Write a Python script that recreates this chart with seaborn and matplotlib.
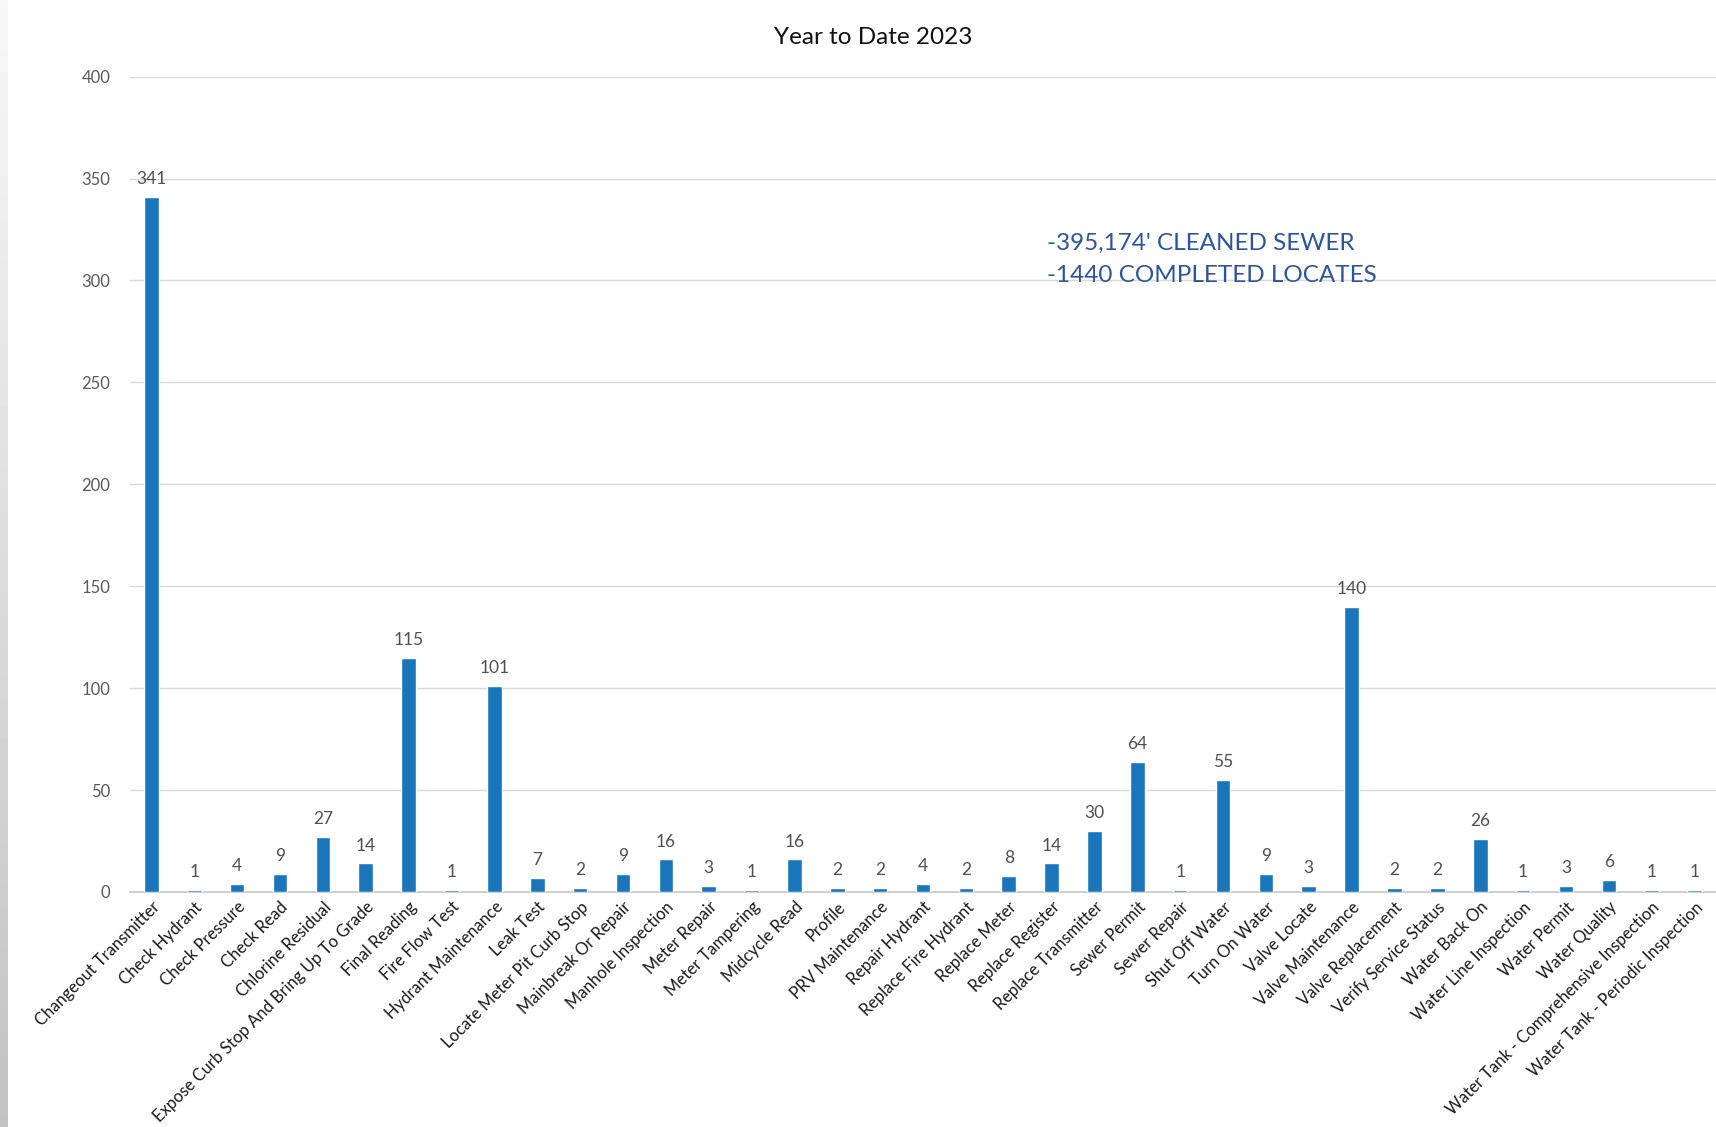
import numpy as np
import pandas as pd
import matplotlib
matplotlib.use("Agg")
import matplotlib.pyplot as plt
import seaborn as sns

categories = [
    "Changeout Transmitter", "Check Hydrant", "Check Pressure", "Check Read",
    "Chlorine Residual", "Expose Curb Stop And Bring Up To Grade", "Final Reading",
    "Fire Flow Test", "Hydrant Maintenance", "Leak Test", "Locate Meter Pit Curb Stop",
    "Mainbreak Or Repair", "Manhole Inspection", "Meter Repair", "Meter Tampering",
    "Midcycle Read", "Profile", "PRV Maintenance", "Repair Hydrant",
    "Replace Fire Hydrant", "Replace Meter", "Replace Register", "Replace Transmitter",
    "Sewer Permit", "Sewer Repair", "Shut Off Water", "Turn On Water", "Valve Locate",
    "Valve Maintenance", "Valve Replacement", "Verify Service Status", "Water Back On",
    "Water Line Inspection", "Water Permit", "Water Quality",
    "Water Tank - Comprehensive Inspection", "Water Tank - Periodic Inspection",
]
values = [341, 1, 4, 9, 27, 14, 115, 1, 101, 7, 2, 9, 16, 3, 1, 16, 2, 2, 4, 2, 8,
          14, 30, 64, 1, 55, 9, 3, 140, 2, 2, 26, 1, 3, 6, 1, 1]
y_ticks = [0, 50, 100, 150, 200, 250, 300, 350, 400]
title = "Year to Date 2023"
note_lines = ["-395,174' CLEANED SEWER", "-1440 COMPLETED LOCATES"]

df = pd.DataFrame({"Category": categories, "Count": values})

sns.set_theme(style="white")
plt.rcParams["font.family"] = ["Lato", "DejaVu Sans"]

W, H = 1716, 1127
fig = plt.figure(figsize=(W / 100, H / 100), dpi=100)
fig.patch.set_facecolor("white")

# screenshot-like gray strip on the left edge
strip = fig.add_axes([0, 0, 8 / W, 1])
grad = np.linspace(0.97, 0.76, 200).reshape(-1, 1)
strip.imshow(grad, aspect="auto", cmap="gray", vmin=0, vmax=1, extent=[0, 1, 0, 1], origin="upper")
strip.axis("off")

ax = fig.add_axes([130 / W, 1 - 892 / H, 1 - 130 / W, (892 - 76.6) / H])
sns.barplot(data=df, x="Category", y="Count", color="#1B75BB", width=0.34,
            saturation=1, ax=ax, zorder=3)

ax.set_ylim(0, 400)
ax.set_yticks(y_ticks)
ax.set_yticklabels([str(t) for t in y_ticks], fontsize=12, color="#595959")
ax.set_xlabel("")
ax.set_ylabel("")
ax.grid(axis="y", color="#D9D9D9", linewidth=1, zorder=0)
ax.set_axisbelow(True)
for s in ["top", "right", "left"]:
    ax.spines[s].set_visible(False)
ax.spines["bottom"].set_color("#C8C8C8")
ax.spines["bottom"].set_linewidth(1.2)
ax.tick_params(axis="both", length=0)
ax.tick_params(axis="y", pad=14)
ax.set_xlim(-0.5, len(categories) - 0.5)

ax.set_xticks(range(len(categories)))
ax.set_xticklabels(categories, rotation=45, ha="right", rotation_mode="anchor",
                   fontsize=11.9, color="#1a1a1a")
ax.tick_params(axis="x", pad=5)

for c in ax.containers:
    ax.bar_label(c, labels=[str(v) for v in values], padding=7, fontsize=12.5,
                 color="#505050")

fig.text(873 / W, 1 - 37 / H, title, ha="center", va="center", fontsize=17.5,
         color="#111111")
fig.text(1047 / W, 1 - 243 / H, note_lines[0], ha="left", va="center",
         fontsize=17.5, color="#2F5597")
fig.text(1047 / W, 1 - 276 / H, note_lines[1], ha="left", va="center",
         fontsize=17.5, color="#2F5597")

fig.savefig("out.png", dpi=100, facecolor="white")
